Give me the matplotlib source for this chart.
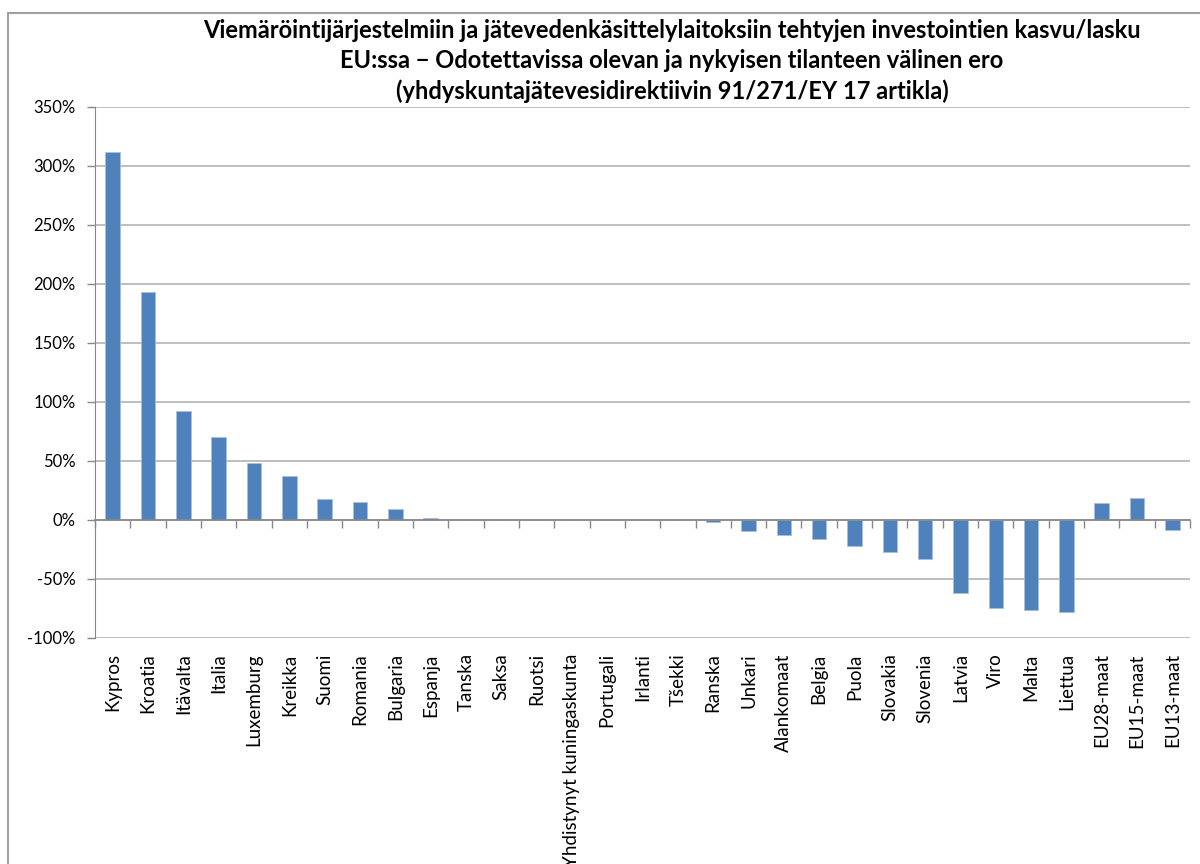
import matplotlib.pyplot as plt
import numpy as np
from matplotlib.patches import Rectangle
from matplotlib.ticker import FuncFormatter

plt.rcParams['font.family'] = ['Lato', 'DejaVu Sans']

# data (share, 1.0 = 100 %)
countries = ['Kypros', 'Kroatia', 'Itävalta', 'Italia', 'Luxemburg', 'Kreikka', 'Suomi',
             'Romania', 'Bulgaria', 'Espanja', 'Tanska', 'Saksa', 'Ruotsi',
             'Yhdistynyt kuningaskunta', 'Portugali', 'Irlanti', 'Tšekki', 'Ranska',
             'Unkari', 'Alankomaat', 'Belgia', 'Puola', 'Slovakia', 'Slovenia', 'Latvia',
             'Viro', 'Malta', 'Liettua', 'EU28-maat', 'EU15-maat', 'EU13-maat']
values = [3.12, 1.93, 0.92, 0.70, 0.48, 0.37, 0.18,
          0.15, 0.09, 0.015, 0.0, 0.0, 0.0,
          0.0, 0.0, 0.0, 0.0, -0.02,
          -0.093, -0.13, -0.164, -0.22, -0.268, -0.33, -0.615,
          -0.75, -0.76, -0.776, 0.14, 0.19, -0.087]
yticks = np.arange(-1.0, 3.51, 0.5)

title = ('Viemäröintijärjestelmiin ja jätevedenkäsittelylaitoksiin tehtyjen investointien kasvu/lasku\n'
         'EU:ssa \u2212 Odotettavissa olevan ja nykyisen tilanteen välinen ero\n'
         '(yhdyskuntajätevesidirektiivin 91/271/EY 17 artikla)')

bar_color = '#4F81BD'
grid_color = '#B3B3B3'

fig = plt.figure(figsize=(12, 8.64), dpi=100)
ax = fig.add_axes([0.0792, 0.2616, 0.9125, 0.6146])

x = np.arange(len(countries))
ax.bar(x, values, width=0.41, color=bar_color, edgecolor='#A7BFDE', linewidth=0.6, zorder=3)

ax.set_xlim(-0.5, len(countries) - 0.5)
ax.set_ylim(-1.0, 3.5)
ax.set_yticks(yticks)
ax.yaxis.set_major_formatter(FuncFormatter(lambda v, p: f'{v * 100:.0f}%'))
ax.yaxis.grid(True, color=grid_color, linewidth=1.2, zorder=0)
ax.tick_params(axis='y', length=6, width=1, color='#878787', pad=8, labelsize=12)

for s in ['top', 'right']:
    ax.spines[s].set_visible(False)
ax.spines['left'].set_color('#878787')
ax.spines['bottom'].set_position(('data', 0))
ax.spines['bottom'].set_color('#878787')
ax.spines['bottom'].set_linewidth(1.2)
ax.spines['bottom'].set_zorder(4)

# category boundary ticks on the zero line
ax.set_xticks(np.arange(len(countries) + 1) - 0.5)
ax.tick_params(axis='x', length=6, width=1, color='#878787', labelbottom=False)

# category labels at the bottom of the plot area
sec = ax.secondary_xaxis('bottom')
sec.set_xticks(x)
sec.set_xticklabels(countries, rotation=90, fontsize=13.5)
sec.tick_params(axis='x', length=0, pad=11)
sec.spines['bottom'].set_visible(False)

fig.text(0.56, 0.978, title, ha='center', va='top', fontsize=17, fontweight='bold',
         linespacing=1.38)

# outer chart frame
fig.patches.append(Rectangle((8 / 1200, -0.1), 1.2, 1 - 13 / 864 + 0.1,
                             transform=fig.transFigure, fill=False,
                             edgecolor='#A0A0A0', linewidth=1.5))

plt.savefig('out.png', dpi=100, facecolor='white')
